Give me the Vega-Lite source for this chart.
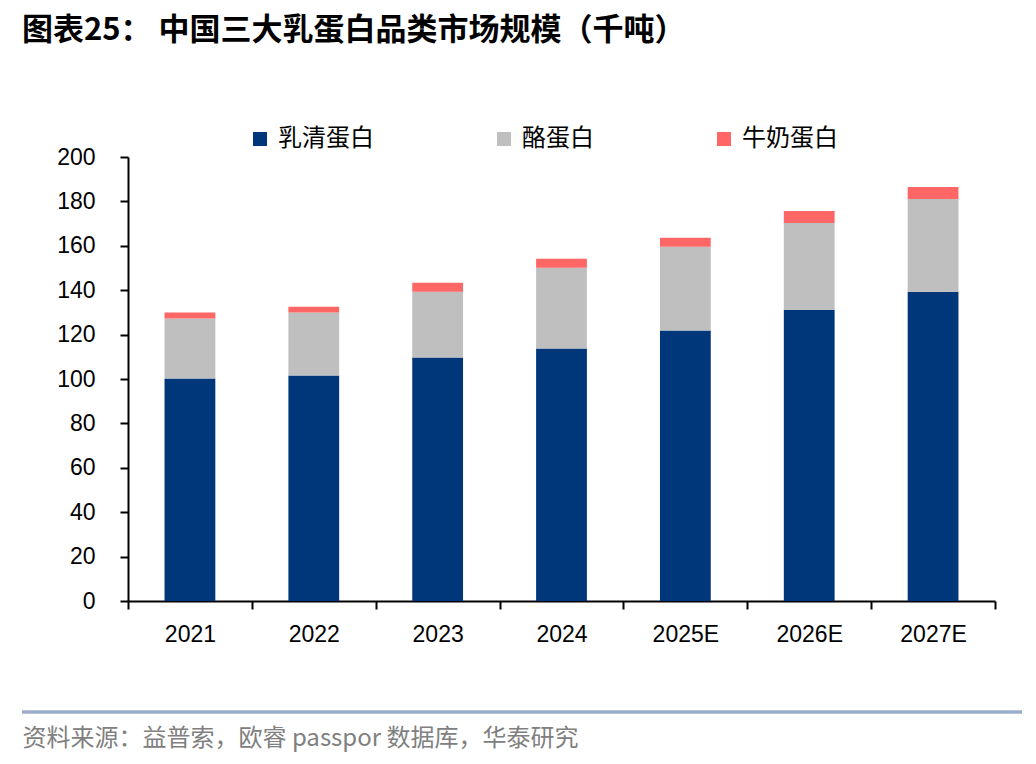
{
  "$schema": "https://vega.github.io/schema/vega-lite/v6.json",
  "width": 867,
  "height": 444,
  "autosize": "none",
  "padding": {"left": 128, "top": 157, "right": 41, "bottom": 163},
  "background": "white",
  "title": {
    "text": "图表25：  中国三大乳蛋白品类市场规模（千吨）",
    "anchor": "start",
    "frame": "group",
    "dx": -106,
    "dy": 32,
    "offset": 112,
    "font": "Noto Sans CJK SC",
    "fontSize": 31,
    "fontWeight": "bold",
    "color": "#000000"
  },
  "layer": [
    {
      "data": {
        "values": [
          {"year": "2021", "type": "乳清蛋白", "seq": 1, "value": 100.2},
          {"year": "2021", "type": "酪蛋白", "seq": 2, "value": 27.0},
          {"year": "2021", "type": "牛奶蛋白", "seq": 3, "value": 2.7},
          {"year": "2022", "type": "乳清蛋白", "seq": 1, "value": 101.6},
          {"year": "2022", "type": "酪蛋白", "seq": 2, "value": 28.3},
          {"year": "2022", "type": "牛奶蛋白", "seq": 3, "value": 2.7},
          {"year": "2023", "type": "乳清蛋白", "seq": 1, "value": 109.7},
          {"year": "2023", "type": "酪蛋白", "seq": 2, "value": 29.6},
          {"year": "2023", "type": "牛奶蛋白", "seq": 3, "value": 4.1},
          {"year": "2024", "type": "乳清蛋白", "seq": 1, "value": 113.7},
          {"year": "2024", "type": "酪蛋白", "seq": 2, "value": 36.4},
          {"year": "2024", "type": "牛奶蛋白", "seq": 3, "value": 4.1},
          {"year": "2025E", "type": "乳清蛋白", "seq": 1, "value": 121.8},
          {"year": "2025E", "type": "酪蛋白", "seq": 2, "value": 37.8},
          {"year": "2025E", "type": "牛奶蛋白", "seq": 3, "value": 4.0},
          {"year": "2026E", "type": "乳清蛋白", "seq": 1, "value": 131.2},
          {"year": "2026E", "type": "酪蛋白", "seq": 2, "value": 39.1},
          {"year": "2026E", "type": "牛奶蛋白", "seq": 3, "value": 5.4},
          {"year": "2027E", "type": "乳清蛋白", "seq": 1, "value": 139.3},
          {"year": "2027E", "type": "酪蛋白", "seq": 2, "value": 41.8},
          {"year": "2027E", "type": "牛奶蛋白", "seq": 3, "value": 5.4}
        ]
      },
      "mark": {"type": "bar", "width": {"band": 0.41}},
      "encoding": {
        "x": {
          "field": "year",
          "type": "nominal",
          "sort": null,
          "scale": {"paddingInner": 0, "paddingOuter": 0},
          "axis": {
            "title": "资料来源：益普索，欧睿 passpor 数据库，华泰研究",
            "titleX": -106,
            "titleY": 137,
            "titleAlign": "left",
            "titleAnchor": "start",
            "titleBaseline": "middle",
            "titleFont": "Noto Sans CJK SC",
            "titleFontSize": 24,
            "titleFontWeight": "normal",
            "titleColor": "#808080",
            "labelAngle": 0,
            "labelFont": "Liberation Sans",
            "labelFontSize": 23,
            "labelColor": "#000000",
            "labelPadding": 14,
            "tickBand": "extent",
            "tickSize": 8,
            "tickWidth": 2,
            "tickColor": "#000000",
            "domainColor": "#000000",
            "domainWidth": 2
          }
        },
        "y": {
          "field": "value",
          "type": "quantitative",
          "stack": "zero",
          "scale": {"domain": [0, 200], "nice": false},
          "axis": {
            "title": null,
            "values": [0, 20, 40, 60, 80, 100, 120, 140, 160, 180, 200],
            "grid": false,
            "labelFont": "Liberation Sans",
            "labelFontSize": 23,
            "labelColor": "#000000",
            "labelPadding": 25,
            "tickSize": 8,
            "tickWidth": 2,
            "tickColor": "#000000",
            "domainColor": "#000000",
            "domainWidth": 2
          }
        },
        "order": {"field": "seq", "type": "quantitative", "sort": "ascending"},
        "color": {
          "field": "type",
          "type": "nominal",
          "sort": ["乳清蛋白", "酪蛋白", "牛奶蛋白"],
          "scale": {
            "domain": ["乳清蛋白", "酪蛋白", "牛奶蛋白"],
            "range": ["#00377A", "#BFBFBF", "#FF6666"]
          },
          "legend": {
            "title": null,
            "orient": "none",
            "direction": "horizontal",
            "legendX": 120,
            "legendY": -30,
            "symbolType": "square",
            "symbolSize": 196,
            "symbolStrokeWidth": 0,
            "labelFont": "Noto Sans CJK SC",
            "labelFontSize": 24,
            "labelColor": "#000000",
            "labelOffset": 6,
            "columnPadding": 118
          }
        }
      }
    },
    {
      "data": {"values": [{"line": "top"}, {"line": "bottom"}]},
      "mark": {"type": "rule", "color": "#9AAEC9", "strokeWidth": 3, "clip": false},
      "encoding": {
        "x": {"value": -106},
        "x2": {"value": 894},
        "y": {"condition": {"test": "datum.line === 'top'", "value": -107}, "value": 555}
      }
    }
  ],
  "config": {
    "view": {"stroke": null}
  }
}
